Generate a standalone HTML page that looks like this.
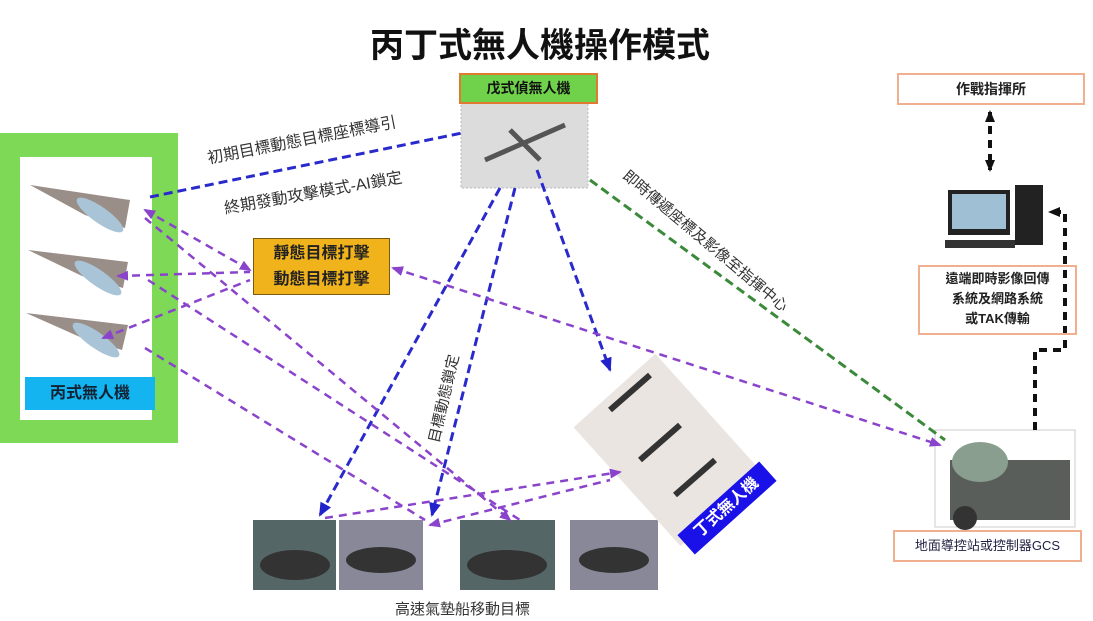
<!DOCTYPE html>
<html><head><meta charset="utf-8"><style>
body{margin:0;width:1093px;height:621px;background:#fff;overflow:hidden;position:relative;font-family:"Liberation Sans","Noto Sans CJK TC",sans-serif}
.a{position:absolute}
.t{font-weight:bold;text-align:center}
</style></head><body>
<div class="a t" style="left:300px;top:18px;width:480px;font-size:34px;color:#111">丙丁式無人機操作模式</div>
<div class="a" style="left:0;top:133px;width:178px;height:310px;background:#7ed957"></div>
<div class="a" style="left:20px;top:157px;width:132px;height:263px;background:#fff"></div>
<div class="a t" style="left:25px;top:377px;width:130px;height:33px;background:#14b4f0;font-size:16px;line-height:33px;color:#123">丙式無人機</div>
<svg class="a" style="left:0;top:0" width="1093" height="621">
<g fill="#9a8f88"><path d="M30 185 L130 200 L125 228 L85 215Z"/><path d="M28 250 L128 262 L123 288 L82 276Z"/><path d="M26 313 L128 325 L122 350 L80 337Z"/></g>
<g fill="#a9c4d6"><ellipse cx="100" cy="215" rx="28" ry="8" transform="rotate(35 100 215)"/><ellipse cx="98" cy="278" rx="28" ry="8" transform="rotate(35 98 278)"/><ellipse cx="96" cy="340" rx="28" ry="8" transform="rotate(35 96 340)"/></g>
<rect x="461" y="103" width="127" height="85" fill="#dcdcdc" stroke="#bbb" stroke-dasharray="2 2"/>
<path d="M485 160 L565 125 M510 130 L540 160" stroke="#555" stroke-width="5"/>
<g fill="#566"><rect x="253" y="520" width="83" height="70"/><rect x="339" y="520" width="84" height="70" fill="#889"/><rect x="460" y="520" width="95" height="70"/><rect x="570" y="520" width="88" height="70" fill="#889"/></g>
<g fill="#333"><ellipse cx="295" cy="565" rx="35" ry="15"/><ellipse cx="381" cy="560" rx="35" ry="13"/><ellipse cx="507" cy="565" rx="40" ry="15"/><ellipse cx="614" cy="560" rx="35" ry="13"/></g>
<rect x="-55" y="-80" width="110" height="160" fill="#ebe5e2" transform="translate(668 450) rotate(-42)"/>
<g stroke="#333" stroke-width="6"><path d="M610 410 L650 375"/><path d="M640 460 L680 425"/><path d="M675 495 L715 460"/></g>
<rect x="935" y="430" width="140" height="97" fill="#fff" stroke="#ccc"/>
<rect x="950" y="460" width="120" height="60" fill="#5a5e5a"/>
<ellipse cx="980" cy="462" rx="28" ry="20" fill="#8a9e90"/>
<circle cx="965" cy="518" r="12" fill="#333"/>
<rect x="948" y="190" width="62" height="45" fill="#222"/><rect x="952" y="194" width="54" height="35" fill="#9fc0d4"/>
<rect x="1015" y="185" width="28" height="60" fill="#222"/><rect x="945" y="240" width="70" height="8" fill="#333"/>
<defs>
<marker id="b" markerUnits="userSpaceOnUse" markerWidth="14" markerHeight="14" refX="12" refY="7" orient="auto"><path d="M0 1L14 7L0 13Z" fill="#2222cc"/></marker>
<marker id="p" markerUnits="userSpaceOnUse" markerWidth="12" markerHeight="12" refX="10" refY="6" orient="auto-start-reverse"><path d="M0 1L12 6L0 11Z" fill="#8a44cc"/></marker>
<marker id="k" markerUnits="userSpaceOnUse" markerWidth="12" markerHeight="12" refX="10" refY="6" orient="auto-start-reverse"><path d="M0 1L12 6L0 11Z" fill="#111"/></marker>
</defs>
<g stroke="#2a2acc" stroke-width="3" stroke-dasharray="9 5" fill="none">
<path d="M150 197 L462 133"/>
<path d="M500 188 L320 515" marker-end="url(#b)"/>
<path d="M515 188 L432 515" marker-end="url(#b)"/>
<path d="M537 170 L610 370" marker-end="url(#b)"/>
</g>
<path d="M590 180 L945 440" stroke="#3a8a3a" stroke-width="3" stroke-dasharray="9 5"/>
<g stroke="#8a44cc" stroke-width="2.5" stroke-dasharray="8 6" fill="none">
<path d="M145 210 L250 270" marker-start="url(#p)" marker-end="url(#p)"/>
<path d="M118 276 L250 272" marker-start="url(#p)"/>
<path d="M103 338 L250 280" marker-start="url(#p)"/>
<path d="M393 268 L940 445" marker-start="url(#p)" marker-end="url(#p)"/>
<path d="M145 218 L510 520" marker-end="url(#p)"/>
<path d="M148 280 L520 520"/>
<path d="M145 348 L425 520"/>
<path d="M325 518 L620 472" marker-end="url(#p)"/>
<path d="M430 525 L610 480" marker-start="url(#p)"/>
</g>
<g stroke="#111" stroke-width="4" stroke-dasharray="8 6" fill="none">
<path d="M990 112 L990 170" marker-start="url(#k)" marker-end="url(#k)"/>
<path d="M1035 430 L1035 350 L1065 350 L1065 212 L1050 212" marker-end="url(#k)"/>
</g>
</svg>
<div class="a t" style="left:253px;top:238px;width:137px;height:57px;background:#f0b31c;border:1px solid #7a5a10;font-size:16px;line-height:26px;padding-top:2px;box-sizing:border-box;color:#222">靜態目標打擊<br>動態目標打擊</div>
<div class="a t" style="left:459px;top:73px;width:135px;height:27px;background:#6fd24a;border:2px solid #e07a30;font-size:14px;line-height:27px;color:#111">戊式偵無人機</div>
<div class="a" style="left:205px;top:145px;font-size:16px;color:#333;transform:rotate(-11deg);transform-origin:left top;white-space:nowrap">初期目標動態目標座標導引</div>
<div class="a" style="left:222px;top:195px;font-size:16px;color:#333;transform:rotate(-10deg);transform-origin:left top;white-space:nowrap">終期發動攻擊模式-AI鎖定</div>
<div class="a" style="left:632px;top:165px;font-size:15px;color:#333;transform:rotate(40deg);transform-origin:left top;white-space:nowrap">即時傳遞座標及影像至指揮中心</div>
<div class="a" style="left:423px;top:440px;font-size:15px;color:#333;transform:rotate(-77deg);transform-origin:left top;white-space:nowrap">目標動態鎖定</div>
<div class="a t" style="left:672px;top:495px;width:110px;height:26px;background:#1a10e8;color:#fff;font-size:16px;line-height:26px;transform:rotate(-42deg)">丁式無人機</div>
<div class="a t" style="left:897px;top:73px;width:184px;height:28px;border:2px solid #f0b090;font-size:14px;line-height:28px;color:#222">作戰指揮所</div>
<div class="a t" style="left:918px;top:265px;width:155px;height:64px;border:2px solid #f0b090;font-size:13px;line-height:20px;padding-top:2px;color:#222">遠端即時影像回傳<br>系統及網路系統<br>或TAK傳輸</div>
<div class="a t" style="left:893px;top:530px;width:185px;height:28px;border:2px solid #f0b090;font-size:13px;line-height:28px;font-weight:normal;color:#224">地面導控站或控制器GCS</div>
<div class="a" style="left:395px;top:598px;font-size:15px;color:#333">高速氣墊船移動目標</div>
</body></html>
